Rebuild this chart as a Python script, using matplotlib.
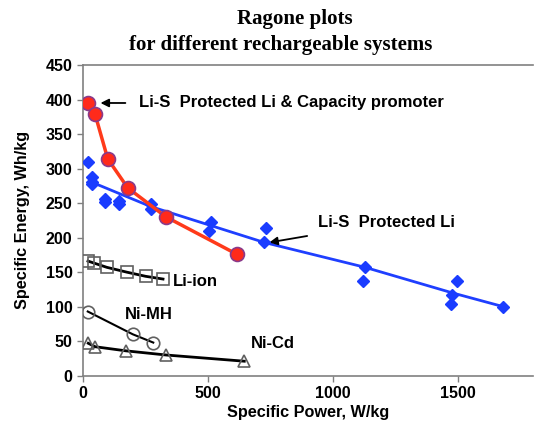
import matplotlib
matplotlib.use("Agg")
import matplotlib.pyplot as plt

# Li-S protected Li & capacity promoter (red)
red_x = [21, 48, 99, 179, 332, 615]
red_y = [395, 379, 314, 272, 230, 176]

# Li-S protected Li (blue diamonds)
blue_x = [21, 37, 37, 35, 88, 88, 145, 145, 271, 271, 511, 504, 731, 725,
          1128, 1119, 1497, 1477, 1472, 1681]
blue_y = [309, 288, 281, 277, 256, 251, 253, 248, 249, 241, 222, 209, 214, 193,
          157, 137, 137, 117, 104, 100]
# blue trend line
trend_x = [37, 271, 725, 1128, 1477, 1681]
trend_y = [280, 245, 193, 157, 120, 100]

# Li-ion
liion_x = [20, 45, 95, 175, 250, 320]
liion_y = [166, 163, 157, 150, 144, 140]
# Ni-MH
nimh_x = [19, 199, 281]
nimh_y = [93, 60, 48]
# Ni-Cd
nicd_x = [21, 48, 172, 332, 645]
nicd_y = [47, 42, 36, 30, 21]

x_ticks = [0, 500, 1000, 1500]
y_ticks = [0, 50, 100, 150, 200, 250, 300, 350, 400, 450]

plt.rcParams['font.family'] = ['Liberation Sans', 'DejaVu Sans']

fig = plt.figure(figsize=(5.39, 4.32), dpi=100)
ax = fig.add_axes([0.154, 0.1303, 0.835, 0.7192])
ax.set_xlim(0, 1800)
ax.set_ylim(0, 450)

gray = '#808080'
# black curves
ax.plot(liion_x, liion_y, color='black', lw=2, zorder=2)
ax.plot(liion_x, liion_y, ls='none', marker='s', ms=8, mfc='none', mec='#606060', mew=1.2, zorder=3)
ax.plot(nimh_x, nimh_y, color='black', lw=1.5, zorder=2)
ax.plot(nimh_x, nimh_y, ls='none', marker='o', ms=9, mfc='none', mec='#606060', mew=1.2, zorder=3)
ax.plot(nicd_x, nicd_y, color='black', lw=2, zorder=2)
ax.plot(nicd_x, nicd_y, ls='none', marker='^', ms=8, mfc='none', mec='#606060', mew=1.2, zorder=3)

# blue
ax.plot(trend_x, trend_y, color='#1f3fff', lw=2, zorder=3)
ax.plot(blue_x, blue_y, ls='none', marker='D', ms=6, color='#1a3cff', zorder=4)

# red
ax.plot(red_x, red_y, color='#ff3a1a', lw=2.5, zorder=5)
ax.plot(red_x, red_y, ls='none', marker='o', ms=10, mfc='#ff2a1a', mec='#8a3a8a', mew=1.2, zorder=6)

ax.set_xticks(x_ticks)
ax.set_yticks(y_ticks)
ax.set_xticklabels([str(v) for v in x_ticks], fontweight='bold', fontsize=11.5)
ax.set_yticklabels([str(v) for v in y_ticks], fontweight='bold', fontsize=11.5)
ax.tick_params(length=4, color=gray, width=1)
for s in ['left', 'bottom', 'top']:
    ax.spines[s].set_color(gray)
    ax.spines[s].set_linewidth(1.2)
ax.spines['right'].set_visible(False)

ax.set_xlabel('Specific Power, W/kg', fontweight='bold', fontsize=11.7, labelpad=3)
ax.set_ylabel('Specific Energy, Wh/kg', fontweight='bold', fontsize=11.7, labelpad=11)

fig.text(0.547, 0.957, 'Ragone plots', ha='center', va='center',
         family='Liberation Serif', fontweight='bold', fontsize=15)
fig.text(0.52, 0.896, 'for different rechargeable systems', ha='center', va='center',
         family='Liberation Serif', fontweight='bold', fontsize=15)

# annotations
ax.annotate('Li-S  Protected Li & Capacity promoter', xy=(70, 395), xytext=(225, 395),
            fontweight='bold', fontsize=12, va='center', ha='left',
            arrowprops=dict(arrowstyle='-|>', color='black', lw=1.3, mutation_scale=12,
                            shrinkA=8, shrinkB=0))
ax.annotate('Li-S  Protected Li', xy=(745, 193), xytext=(940, 222),
            fontweight='bold', fontsize=12, va='center', ha='left',
            arrowprops=dict(arrowstyle='-|>', color='black', lw=1.3, mutation_scale=12,
                            shrinkA=14, shrinkB=0))
ax.text(358, 137, 'Li-ion', fontweight='bold', fontsize=12, va='center', ha='left')
ax.text(168, 89, 'Ni-MH', fontweight='bold', fontsize=12, va='center', ha='left')
ax.text(672, 46, 'Ni-Cd', fontweight='bold', fontsize=12, va='center', ha='left')

fig.savefig('out.png', dpi=100)
